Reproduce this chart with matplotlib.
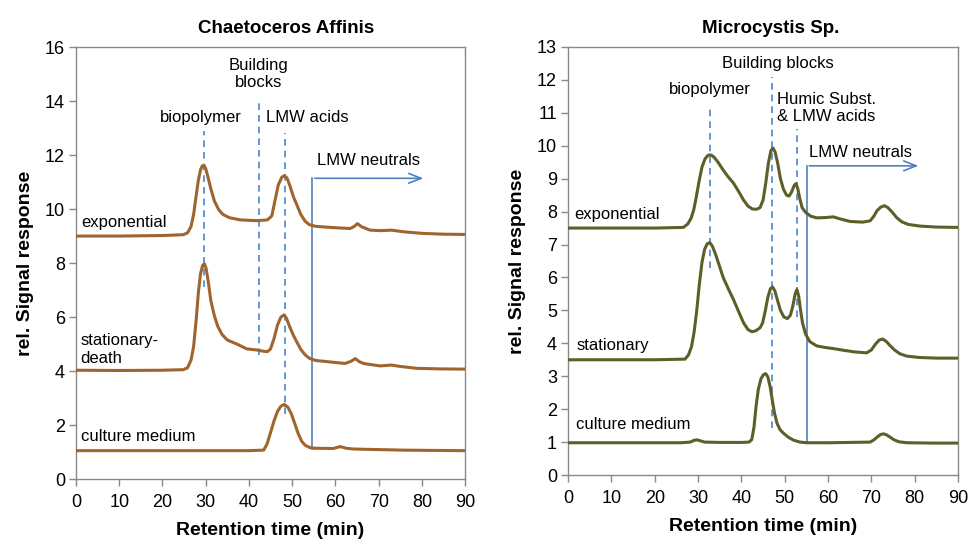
import matplotlib
matplotlib.use("Agg")
import matplotlib.pyplot as plt

plt.rcParams['font.family'] = ['Liberation Sans', 'DejaVu Sans']

# retention time (min) and signal for Chaetoceros Affinis
ca_exp_t = [0, 10, 20, 24.8, 25.8, 26.6, 27.2, 27.8, 28.3, 28.8, 29.2, 29.6, 30.0, 30.5, 31.2,
            32.0, 33.0, 34.0, 35.5, 38, 41.8, 44.3, 45.3, 46.0, 46.8, 47.6, 48.2, 48.8, 49.5,
            50.3, 51.1, 52.0, 53.0, 54.0, 55.5, 58, 61, 63.4, 64.3, 65.1, 66.0, 68.0, 70.5,
            73.0, 75.7, 80, 85, 90]
ca_exp_y = [9.0, 9.0, 9.02, 9.05, 9.12, 9.35, 9.8, 10.5, 11.07, 11.45, 11.6, 11.62, 11.5, 11.2, 10.75,
            10.3, 9.98, 9.8, 9.68, 9.6, 9.57, 9.6, 9.75, 10.3, 10.9, 11.18, 11.24, 11.15, 10.85,
            10.45, 10.15, 9.8, 9.55, 9.42, 9.36, 9.33, 9.3, 9.28, 9.35, 9.46, 9.35, 9.22, 9.2,
            9.22, 9.16, 9.1, 9.07, 9.06]

ca_sta_t = [0, 10, 20, 24.8, 25.8, 26.6, 27.2, 27.8, 28.3, 28.8, 29.3, 29.7, 30.1, 30.6, 31.2,
            32.0, 32.8, 33.8, 35.0, 37.2, 39.5, 41.8, 43.5, 44.3, 45.0, 45.8, 46.6, 47.4, 48.1,
            48.7, 49.4, 50.2, 51.0, 52.0, 53.0, 54.0, 55.5, 58, 62.2, 63.6, 64.6, 65.5, 66.5,
            70.3, 73.0, 75, 78.8, 84, 90]
ca_sta_y = [4.03, 4.02, 4.03, 4.05, 4.12, 4.4, 4.9, 5.9, 6.9, 7.6, 7.92, 7.97, 7.8, 7.3, 6.6,
            6.05, 5.65, 5.35, 5.15, 5.0, 4.82, 4.78, 4.73, 4.72, 4.82, 5.2, 5.7, 6.0, 6.08,
            5.95, 5.65, 5.35, 5.1, 4.8, 4.6, 4.47, 4.39, 4.35, 4.28, 4.36, 4.46, 4.35, 4.28,
            4.19, 4.22, 4.17, 4.10, 4.08, 4.07]

ca_med_t = [0, 10, 20, 30, 40, 43.4, 44.2, 45.0, 45.8, 46.6, 47.4, 48.2, 49.0, 49.8, 50.6,
            51.4, 52.2, 53.0, 54.0, 55.0, 59.5, 61.1, 62.5, 64.2, 70, 75.7, 82, 90]
ca_med_y = [1.05, 1.05, 1.05, 1.05, 1.05, 1.07, 1.3, 1.72, 2.15, 2.5, 2.7, 2.76, 2.66, 2.42, 2.05,
            1.68, 1.4, 1.25, 1.17, 1.14, 1.13, 1.2, 1.14, 1.11, 1.09, 1.07, 1.06, 1.05]

# retention time (min) and signal for Microcystis Sp.
mc_exp_t = [0, 10, 20, 26.6, 27.6, 28.4, 29.0, 29.6, 30.2, 30.9, 31.6, 32.3, 33.0, 33.7, 34.5,
            35.5, 36.8, 38.2, 39.5, 40.5, 41.5, 42.5, 43.5, 44.3, 45.0, 45.6, 46.2, 46.8, 47.3,
            47.8, 48.4, 49.0, 49.7, 50.4, 51.0, 51.6, 52.2, 52.6, 53.0, 53.5, 54.0, 54.8, 56.0,
            57.4, 59.5, 61.2, 63, 65.1, 68, 69.7, 70.5, 71.3, 72.2, 73.0, 73.8, 74.8, 75.8,
            77.0, 78.5, 81.2, 85, 90]
mc_exp_y = [7.5, 7.5, 7.5, 7.52, 7.62, 7.8, 8.05, 8.45, 8.9, 9.35, 9.6, 9.71, 9.72, 9.65, 9.52,
            9.32, 9.08, 8.86, 8.58, 8.35, 8.17, 8.08, 8.07, 8.12, 8.35, 8.85, 9.45, 9.85, 9.93,
            9.8, 9.45, 9.0, 8.68, 8.5, 8.47, 8.6, 8.8, 8.85, 8.7, 8.38, 8.12, 7.98, 7.86,
            7.81, 7.82, 7.84, 7.77, 7.7, 7.68, 7.72, 7.85, 8.03, 8.14, 8.18, 8.12, 7.98, 7.82,
            7.69, 7.61, 7.56, 7.53, 7.52]

mc_sta_t = [0, 10, 20, 27.0, 27.8, 28.5, 29.1, 29.7, 30.3, 30.9, 31.5, 32.1, 32.7, 33.3, 34.0,
            34.8, 35.8, 37.0, 38.2, 39.4, 40.5, 41.5, 42.4, 43.3, 44.3, 44.9, 45.5, 46.1, 46.7,
            47.2, 47.7, 48.3, 49.0, 49.8, 50.6, 51.3, 51.9, 52.4, 52.8, 53.2, 53.6, 54.1, 54.8,
            55.8, 57.4, 59.5, 61.2, 63.5, 66, 68.9, 70.0, 70.9, 71.8, 72.6, 73.4, 74.3, 75.3,
            76.6, 78.2, 81, 85, 90]
mc_sta_y = [3.5, 3.5, 3.5, 3.52, 3.65, 3.9, 4.35, 5.0, 5.8, 6.45, 6.85, 7.02, 7.06, 6.95, 6.72,
            6.4, 6.0, 5.65, 5.32, 4.95, 4.62, 4.42, 4.35, 4.38, 4.47, 4.62, 4.98, 5.4, 5.66,
            5.71, 5.6, 5.32, 5.0, 4.8, 4.75, 4.85, 5.15, 5.5, 5.63, 5.45, 5.05, 4.62, 4.28,
            4.05, 3.92, 3.87, 3.84, 3.79, 3.74, 3.71, 3.8, 3.97, 4.1, 4.13, 4.06, 3.93, 3.8,
            3.68, 3.61, 3.57, 3.55, 3.55]

mc_med_t = [0, 10, 20, 26, 28.2, 29.0, 29.7, 30.5, 31.5, 35, 40, 41.8, 42.4, 42.9, 43.4, 43.9,
            44.5, 45.1, 45.6, 46.1, 46.6, 47.1, 47.6, 48.2, 48.9, 49.7, 50.8, 52.0, 53.5, 55.1,
            60, 65, 69.7, 70.5, 71.3, 72.1, 72.8, 73.5, 74.3, 75.2, 76.3, 78.2, 84, 90]
mc_med_y = [0.98, 0.98, 0.98, 0.98, 1.0, 1.05, 1.07, 1.04, 1.0, 0.99, 0.99, 1.0, 1.08, 1.45, 2.1, 2.6,
            2.92, 3.05, 3.08, 2.98, 2.7, 2.3, 1.9, 1.58, 1.38, 1.27, 1.15, 1.06, 1.0, 0.98,
            0.98, 0.99, 1.0, 1.06, 1.15, 1.23, 1.25, 1.22, 1.15, 1.07, 1.01, 0.98, 0.97, 0.97]

BROWN = '#a0642e'
OLIVE = '#5e5e28'
DASH_BLUE = '#4a86d0'
ARROW_BLUE = '#4f81bd'
FRAME = '#898989'
FS = 12


def style_axes(ax, ymax):
    ax.set_xlim(0, 90)
    ax.set_ylim(0, ymax)
    ax.set_xticks(range(0, 91, 10))
    for s in ax.spines.values():
        s.set_color(FRAME)
        s.set_linewidth(1.0)
    ax.tick_params(axis='both', direction='out', length=5, width=1, color=FRAME,
                   labelsize=13, pad=3)
    ax.tick_params(axis='x', pad=6)
    ax.set_xlabel('Retention time (min)', fontsize=14, fontweight='bold', labelpad=8)
    ax.set_ylabel('rel. Signal response', fontsize=14, fontweight='bold', labelpad=8)


def chromatogram(ax, t, y, color):
    ax.plot(t, y, color=color, lw=2.2, solid_capstyle='round', solid_joinstyle='round', zorder=3)


def dashed(ax, x, y0, y1):
    ax.plot([x, x], [y0, y1], color=DASH_BLUE, lw=1.2, ls=(0, (4, 3)), zorder=1)


def neutrals_arrow(ax, x, y0, y1, x_end):
    ax.plot([x, x], [y0, y1], color=ARROW_BLUE, lw=1.2, zorder=1)
    ax.annotate('', xy=(x_end, y1), xytext=(x - 0.1, y1),
                arrowprops=dict(arrowstyle='->,head_length=0.9,head_width=0.35',
                                color=ARROW_BLUE, lw=1.2))


fig = plt.figure(figsize=(9.68, 5.46), dpi=100)

# left panel: Chaetoceros Affinis
ax1 = fig.add_axes([0.0785, 0.1227, 0.402, 0.791])
style_axes(ax1, 16)
ax1.set_yticks(range(0, 17, 2))
dashed(ax1, 29.7, 7.1, 12.9)
dashed(ax1, 42.3, 4.6, 14.05)
dashed(ax1, 48.4, 2.4, 12.8)
neutrals_arrow(ax1, 54.7, 1.11, 11.14, 81.0)
chromatogram(ax1, ca_exp_t, ca_exp_y, BROWN)
chromatogram(ax1, ca_sta_t, ca_sta_y, BROWN)
chromatogram(ax1, ca_med_t, ca_med_y, BROWN)
ax1.text(28.9, 13.4, 'biopolymer', fontsize=FS, ha='center', va='center')
ax1.text(42.3, 15.0, 'Building\nblocks', fontsize=FS, ha='center', va='center',
         linespacing=1.2)
ax1.text(43.9, 13.4, 'LMW acids', fontsize=FS, ha='left', va='center')
ax1.text(55.7, 11.8, 'LMW neutrals', fontsize=FS, ha='left', va='center')
ax1.text(1.3, 9.5, 'exponential', fontsize=FS, ha='left', va='center')
ax1.text(1.1, 4.8, 'stationary-\ndeath', fontsize=FS, ha='left', va='center',
         linespacing=1.2)
ax1.text(1.1, 1.57, 'culture medium', fontsize=FS, ha='left', va='center')
ax1.set_title('Chaetoceros Affinis', fontsize=13.5, fontweight='bold', pad=10, x=0.54)

# right panel: Microcystis Sp.
ax2 = fig.add_axes([0.5868, 0.130, 0.403, 0.784])
style_axes(ax2, 13)
ax2.set_yticks(range(0, 14, 1))
dashed(ax2, 32.8, 6.3, 11.2)
dashed(ax2, 47.0, 1.42, 12.1)
dashed(ax2, 52.8, 4.8, 10.5)
neutrals_arrow(ax2, 55.1, 0.96, 9.39, 81.5)
chromatogram(ax2, mc_exp_t, mc_exp_y, OLIVE)
chromatogram(ax2, mc_sta_t, mc_sta_y, OLIVE)
chromatogram(ax2, mc_med_t, mc_med_y, OLIVE)
ax2.text(32.8, 11.7, 'biopolymer', fontsize=FS, ha='center', va='center')
ax2.text(48.5, 12.5, 'Building blocks', fontsize=FS, ha='center', va='center')
ax2.text(48.3, 11.14, 'Humic Subst.\n& LMW acids', fontsize=FS, ha='left', va='center',
         linespacing=1.2)
ax2.text(55.5, 9.8, 'LMW neutrals', fontsize=FS, ha='left', va='center')
ax2.text(1.4, 7.92, 'exponential', fontsize=FS, ha='left', va='center')
ax2.text(2.0, 3.92, 'stationary', fontsize=FS, ha='left', va='center')
ax2.text(1.8, 1.52, 'culture medium', fontsize=FS, ha='left', va='center')
ax2.set_title('Microcystis Sp.', fontsize=13.5, fontweight='bold', pad=10, x=0.52)

fig.savefig('out.png', dpi=100)
